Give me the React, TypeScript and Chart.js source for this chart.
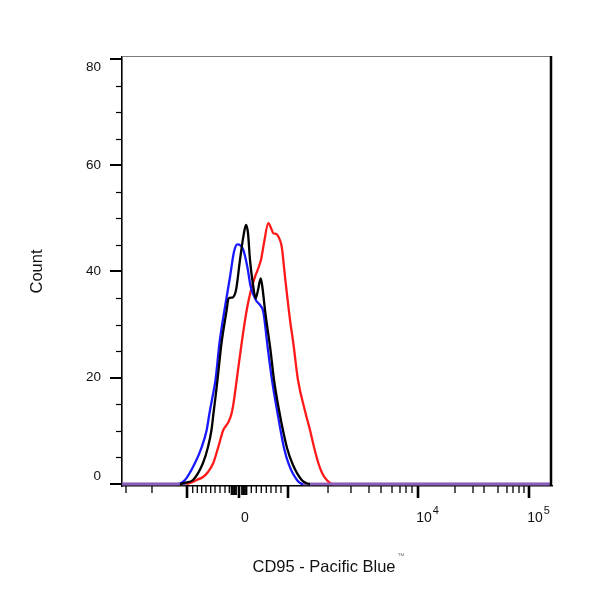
import React, { useEffect, useRef } from 'react';
import { Chart, registerables } from 'chart.js';

Chart.register(...registerables);

// ---- Data (x in display channels of the biexponential axis, 0..1024) ----
const blackChannel = [0, 138.1, 152.4, 169.1, 192.9, 204.8, 213.1, 217.9, 222.7, 227.4, 237.0, 249.3, 253.6, 263.1, 271.5, 281.0, 289.3, 295.3, 300.1, 304.8, 312.0, 318.4, 323.9, 330.3, 334.6, 340.5, 353.6, 362.0, 373.9, 393.0, 407.2, 427.9, 438.2, 447.7, 1024];
const blackCount = [0, 0, 0.28, 0.75, 3.95, 6.96, 10.16, 13.36, 16.38, 19.58, 26.54, 32.75, 34.92, 35.1, 36.5, 42.2, 46.7, 48.75, 47.2, 42.2, 37.5, 34.95, 36.5, 38.72, 36.9, 32.75, 25.2, 19.58, 13.93, 6.78, 3.58, 0.75, 0.19, 0, 0];

const blueChannel = [0, 131.0, 150.0, 173.8, 189.8, 201.7, 208.4, 215.5, 222.7, 232.2, 244.1, 257.2, 266.7, 274.6, 282.2, 288.9, 298.4, 306.5, 319.1, 328.6, 336.5, 347.7, 357.2, 369.1, 385.8, 397.7, 416.7, 431.0, 1024];
const blueCount = [0, 0, 0.75, 3.95, 6.96, 10.16, 13.36, 16.38, 19.58, 26.54, 32.75, 38.96, 43.7, 45.12, 44.9, 44.05, 40.9, 37.14, 34.6, 33.7, 32.4, 25.2, 19.58, 13.93, 6.78, 3.58, 0.75, 0, 0];

const redChannel = [0, 154.1, 161.9, 177.9, 192.9, 204.8, 217.4, 229.3, 241.2, 248.9, 253.6, 261.2, 266.7, 273.1, 285.0, 297.0, 307.2, 316.7, 331.0, 338.2, 348.4, 354.8, 360.3, 366.7, 372.2, 380.3, 388.2, 400.1, 407.9, 419.1, 435.8, 447.7, 457.2, 467.5, 476.4, 487.5, 502.5, 1024];
const redCount = [0, 0, 0.19, 0.75, 1.32, 2.26, 3.95, 6.96, 10.16, 11.1, 11.67, 13.36, 15.8, 19.58, 26.54, 32.75, 36.5, 39.0, 42.2, 45.4, 49.1, 48.2, 47.2, 47.1, 46.6, 44.7, 39.0, 30.9, 26.54, 19.58, 13.74, 10.16, 6.96, 3.95, 2.07, 0.75, 0, 0];

// y axis ticks (counts)
const yTickValues = [0, 20, 40, 60, 80];
const yMinorTickValues = [5, 10, 15, 25, 30, 35, 45, 50, 55, 65, 70, 75];

// x axis ticks (channels): -10^3, 0, 10^3, 10^4, 10^5
const xMajorTickChannels = [154.8, 278.6, 395.3, 704.9, 969.2];
const xMinorTickChannels = [
  9.5, 71.4,
  168.4, 179.3, 189.8, 200.0, 211.2, 221.5, 233.4, 245.3, 255.5,
  307.9, 319.8, 331.7, 343.6, 354.8, 366.7, 378.6,
  490.6, 545.3, 588.2, 616.8, 643.0, 662.0, 676.3, 690.6,
  793.0, 835.9, 862.1, 895.4, 916.8, 931.1, 945.4, 957.3,
];
const xZeroClusterChannels = [260.8, 264.3, 267.9, 271.5, 285.8, 289.4, 292.9, 296.5];
const xLabelChannels = [278.6, 704.9, 969.2];
const xLabelBases = ['0', '10', '10'];
const xLabelExponents = ['', '4', '5'];

const xTitle = 'CD95 - Pacific Blue';
const xTitleMark = '™';
const yTitle = 'Count';

const FONT = '"Liberation Sans", Arial, Helvetica, sans-serif';
const BASELINE_PURPLE = 'rgb(140,95,185)';

const toPoints = (xs: number[], ys: number[]) => xs.map((x, i) => ({ x, y: ys[i] }));

const zeroSegment = {
  borderColor: (c: any) =>
    c.p0.parsed.y === 0 && c.p1.parsed.y === 0 ? BASELINE_PURPLE : undefined,
};

const axisDecor = {
  id: 'axisDecor',
  afterDraw(chart: any) {
    const { ctx, chartArea: a, scales } = chart;
    const x = scales.x;
    const y = scales.y;
    ctx.save();

    // frame: top (grey, thin) and right (black)
    ctx.strokeStyle = '#7a7a7a';
    ctx.lineWidth = 1;
    ctx.beginPath();
    ctx.moveTo(a.left, a.top - 0.5);
    ctx.lineTo(a.right, a.top - 0.5);
    ctx.stroke();
    ctx.strokeStyle = '#000';
    ctx.lineWidth = 2.5;
    ctx.beginPath();
    ctx.moveTo(a.right - 1, a.top - 1);
    ctx.lineTo(a.right - 1, a.bottom);
    ctx.stroke();

    // y ticks
    ctx.strokeStyle = '#000';
    yTickValues.forEach((v) => {
      const py = Math.round(y.getPixelForValue(v));
      ctx.lineWidth = 2;
      ctx.beginPath();
      ctx.moveTo(a.left - 12, py);
      ctx.lineTo(a.left, py);
      ctx.stroke();
    });
    yMinorTickValues.forEach((v) => {
      const py = Math.round(y.getPixelForValue(v)) + 0.5;
      ctx.lineWidth = 1.2;
      ctx.beginPath();
      ctx.moveTo(a.left - 6, py);
      ctx.lineTo(a.left, py);
      ctx.stroke();
    });

    // x ticks
    const b = a.bottom;
    xMinorTickChannels.forEach((c) => {
      const px = x.getPixelForValue(c);
      ctx.lineWidth = 1.3;
      ctx.beginPath();
      ctx.moveTo(px, b);
      ctx.lineTo(px, b + 7);
      ctx.stroke();
    });
    xZeroClusterChannels.forEach((c) => {
      const px = x.getPixelForValue(c);
      ctx.lineWidth = 1.8;
      ctx.beginPath();
      ctx.moveTo(px, b);
      ctx.lineTo(px, b + 9);
      ctx.stroke();
    });
    xMajorTickChannels.forEach((c) => {
      const px = x.getPixelForValue(c);
      ctx.lineWidth = 2.6;
      ctx.beginPath();
      ctx.moveTo(px, b);
      ctx.lineTo(px, b + 12);
      ctx.stroke();
    });

    // x tick labels with superscripts
    ctx.fillStyle = '#111';
    ctx.textBaseline = 'alphabetic';
    xLabelChannels.forEach((c, i) => {
      const px = x.getPixelForValue(c) + 6;
      ctx.font = `14px ${FONT}`;
      ctx.textAlign = 'center';
      const base = xLabelBases[i];
      ctx.fillText(base, px, b + 36);
      const exp = xLabelExponents[i];
      if (exp) {
        const w = ctx.measureText(base).width;
        ctx.font = `11px ${FONT}`;
        ctx.textAlign = 'left';
        ctx.fillText(exp, px + w / 2 + 1, b + 28);
      }
    });

    // axis titles
    ctx.fillStyle = '#111';
    ctx.font = `16.5px ${FONT}`;
    ctx.textAlign = 'center';
    const cx = 324;
    ctx.fillText(xTitle, cx, 571.5);
    const tw = ctx.measureText(xTitle).width;
    ctx.font = `7px ${FONT}`;
    ctx.fillStyle = '#777';
    ctx.textAlign = 'left';
    ctx.fillText(xTitleMark, cx + tw / 2 + 2, 558);

    ctx.fillStyle = '#111';
    ctx.font = `16.5px ${FONT}`;
    ctx.translate(41.5, 271.5);
    ctx.rotate(-Math.PI / 2);
    ctx.textAlign = 'center';
    ctx.fillText(yTitle, 0, 0);

    ctx.restore();
  },
};

export default function App() {
  const ref = useRef<HTMLCanvasElement | null>(null);

  useEffect(() => {
    if (!ref.current) return;
    const chart = new Chart(ref.current, {
      type: 'line',
      data: {
        datasets: [
          {
            label: 'Black',
            data: toPoints(blackChannel, blackCount),
            borderColor: '#000000',
            borderWidth: 2.3,
            pointRadius: 0,
            cubicInterpolationMode: 'monotone',
            order: 1,
            segment: zeroSegment,
          },
          {
            label: 'Blue',
            data: toPoints(blueChannel, blueCount),
            borderColor: 'rgb(25,25,255)',
            borderWidth: 2.3,
            pointRadius: 0,
            cubicInterpolationMode: 'monotone',
            order: 2,
            segment: zeroSegment,
          },
          {
            label: 'Red',
            data: toPoints(redChannel, redCount),
            borderColor: 'rgb(255,25,25)',
            borderWidth: 2.3,
            pointRadius: 0,
            cubicInterpolationMode: 'monotone',
            order: 3,
            segment: zeroSegment,
          },
        ],
      } as any,
      options: {
        animation: false,
        responsive: false,
        devicePixelRatio: 1,
        layout: { padding: { left: 0, right: 48, top: 57, bottom: 0 } },
        plugins: { legend: { display: false }, tooltip: { enabled: false } },
        scales: {
          x: {
            type: 'linear',
            min: 0,
            max: 1024,
            grid: { display: false, drawTicks: false },
            border: { display: true, color: '#000', width: 1.6 },
            ticks: { display: false },
            afterFit: (s: any) => {
              s.height = 114;
            },
          },
          y: {
            type: 'linear',
            min: -0.38,
            max: 80.38,
            afterBuildTicks: (s: any) => {
              s.ticks = yTickValues.map((v) => ({ value: v }));
            },
            grid: { display: false, drawTicks: false },
            border: { display: true, color: '#000', width: 1.6 },
            ticks: {
              padding: 21,
              color: '#111',
              font: { family: FONT, size: 13.5 },
              callback: (v: any) => {
                const s = String(v);
                if (v === yTickValues[yTickValues.length - 1]) return ['', s];
                if (v === yTickValues[0]) return [s, ''];
                return s;
              },
            },
            afterFit: (s: any) => {
              s.width = 122;
            },
          },
        },
      } as any,
      plugins: [axisDecor],
    });
    return () => chart.destroy();
  }, []);

  return (
    <div style={{ position: 'absolute', left: 0, top: 0, width: 600, height: 600, background: '#fff' }}>
      <canvas ref={ref} width={600} height={600} style={{ display: 'block' }} />
    </div>
  );
}
